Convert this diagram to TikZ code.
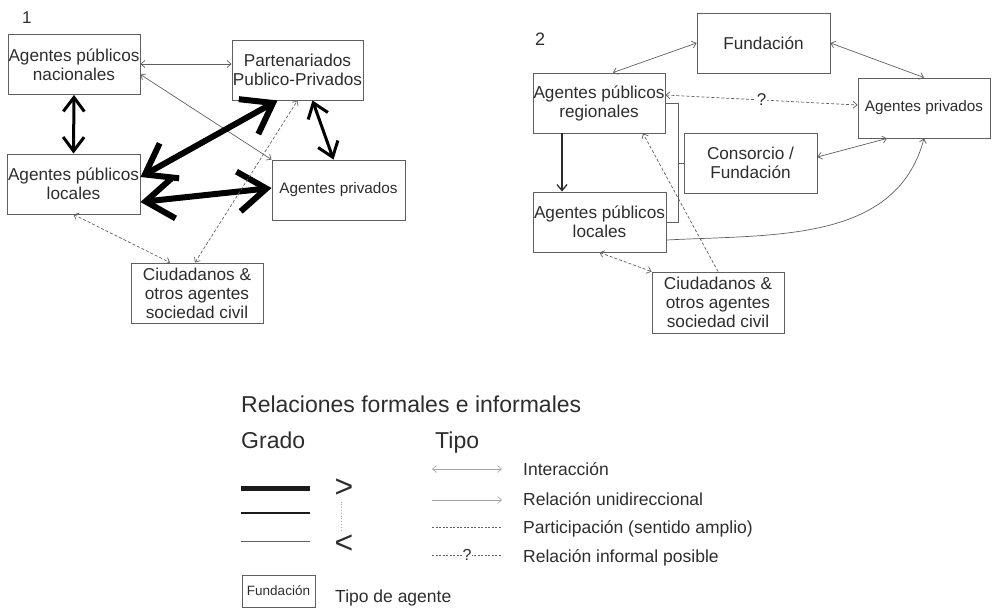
\documentclass[tikz,border=0pt]{standalone}
\usepackage{fontspec}
\setmainfont{Liberation Sans}
\usetikzlibrary{arrows.meta}

\definecolor{cinzatexto}{RGB}{45,45,45}
\definecolor{cinzacaixa}{RGB}{95,95,95}
\definecolor{cinzalinha}{RGB}{95,95,95}
\definecolor{cinzaclaro}{RGB}{165,165,165}

\begin{document}
\begin{tikzpicture}[x=1pt,y=-1pt]
\tikzset{ >={Straight Barb[length=4pt,width=7pt]},
  agente/.style={draw=cinzacaixa, line width=0.9pt, text=cinzatexto, align=center,
    font=\fontsize{17.2}{19}\selectfont, minimum width=132pt, minimum height=60pt, inner sep=0pt},
  fina/.style={<->, cinzalinha, line width=0.7pt},
  tracejada/.style={<->, cinzalinha, line width=0.7pt, dash pattern=on 3pt off 2pt},
  media/.style={line width=3pt, {Straight Barb[length=14pt,width=21pt]}-{Straight Barb[length=14pt,width=21pt]}},
  grossa/.style={line width=6pt, {Straight Barb[length=28pt,width=40pt]}-{Straight Barb[length=28pt,width=40pt]}},
  legenda/.style={anchor=base west, inner sep=0pt, text=cinzatexto},
}

\useasboundingbox (0,0) rectangle (992,608);

%%% Esquema 1

\node [legenda, font=\fontsize{17}{17}\selectfont] (num1) at (22,23) {1};

\node [agente] (nac1)  at (74,64.5)  {Agentes públicos\\nacionales};
\node [agente, minimum width=131pt] (ppp) at (297.5,70) {Partenariados\\Publico-Privados};
\node [agente, minimum width=133pt] (loc1) at (73.5,184) {Agentes públicos\\locales};
\node [agente, minimum width=133pt, font=\fontsize{15.3}{18}\selectfont] (priv1) at (338.5,190) {Agentes privados};
\node [agente] (ciu1)  at (197,293)  {Ciudadanos \&\\otros agentes\\sociedad civil};

% interacciones finas
\draw [fina] ([yshift=0.5pt]nac1.east) -- ([yshift=0.5pt]nac1.east -| ppp.west);
\draw [fina] ([yshift=-10pt]nac1.east) -- (priv1.north west);

% nacionales <-> locales
\draw [media] (nac1.south) -- (loc1.north);

% PPP <-> privados
\draw [media] ([xshift=15pt]ppp.south) -- ([xshift=-5pt]priv1.north);

% locales <-> PPP y privados
\draw [grossa] ([yshift=7pt]loc1.east) -- ([xshift=-20pt]ppp.south);
\draw [grossa] ([yshift=-18pt]loc1.east) -- ([yshift=2pt]priv1.west);

% participacion ciudadana
\draw [tracejada] (loc1.south) -- ([xshift=-27pt]ciu1.north);
\draw [tracejada] ([xshift=-2pt]ciu1.north) -- (ppp.south);

%%% Esquema 2

\node [legenda, font=\fontsize{18}{18}\selectfont] (num2) at (535,45) {2};

\node [agente, minimum width=133pt] (fund) at (763.5,43) {Fundación};
\node [agente] (reg)   at (599,103)  {Agentes públicos\\regionales};
\node [agente, font=\fontsize{15.3}{18}\selectfont] (priv2) at (924,108) {Agentes privados};
\node [agente, minimum width=133pt] (cons) at (750.5,163) {Consorcio /\\Fundación};
\node [agente, minimum width=133pt] (loc2) at (599.5,222) {Agentes públicos\\locales};
\node [agente, minimum height=61pt] (ciu2) at (718,302.5) {Ciudadanos \&\\otros agentes\\sociedad civil};

% Fundacion
\draw [fina] ([xshift=14pt]reg.north) -- (fund.west);
\draw [fina] (fund.east) -- (priv2.north);

% relacion informal
\draw [tracejada] ([yshift=8pt]reg.east) -- ([yshift=3pt]priv2.west)
  node [pos=0.5, fill=white, inner sep=0.5pt, text=cinzatexto, font=\fontsize{17}{17}\selectfont] (duda) {?};

% regionales -> locales
\draw [->, >={Straight Barb[length=6pt,width=10pt]}, line width=1.3pt, cinzatexto]
  ([xshift=-37pt]reg.south) -- ([xshift=-37pt]reg.south |- loc2.north);

% llave del consorcio
\coordinate (llave) at ([xshift=13pt]reg.east);
\draw [cinzalinha, line width=0.7pt] (reg.east) -- (llave) |- (loc2.east);
\draw [cinzalinha, line width=0.7pt] (cons.west) -- (cons.west -| llave);

% consorcio <-> privados
\draw [fina] ([yshift=6pt]cons.east) -- ([xshift=-37pt]priv2.south);

% locales -> privados
\draw [->, cinzalinha, line width=0.7pt] ([yshift=-18pt]loc2.east) to[out=3, in=-105] (priv2.south);

% participacion ciudadana
\draw [tracejada] (loc2.south) -- (ciu2.north west);
\draw [->, cinzalinha, line width=0.7pt, dash pattern=on 3pt off 2pt] (ciu2.north) -- ([xshift=44pt]reg.south);

%%% Leyenda

\node [legenda, font=\fontsize{23}{24}\selectfont] (titulo) at (241,412) {Relaciones formales e informales};
\node [legenda, font=\fontsize{23}{24}\selectfont] (grado)  at (241,448) {Grado};
\node [legenda, font=\fontsize{23}{24}\selectfont] (tipo)   at (435,448) {Tipo};

% grado
\coordinate (g1a) at (241,488); \coordinate (g1b) at (310,488);
\coordinate (g2a) at (241,513); \coordinate (g2b) at (310,513);
\coordinate (g3a) at (241,541); \coordinate (g3b) at (310,541);
\draw [line width=5pt, cinzatexto!60!black] (g1a) -- (g1b);
\draw [line width=2.5pt, cinzatexto!60!black] (g2a) -- (g2b);
\draw [line width=0.8pt, cinzalinha] (g3a) -- (g3b);
\node [text=cinzatexto, inner sep=0pt, font=\fontsize{32}{32}\selectfont] (maior) at (344,488) {>};
\node [text=cinzatexto, inner sep=0pt, font=\fontsize{32}{32}\selectfont] (menor) at (344,544) {<};
\draw [cinzaclaro, dotted, line width=0.8pt] ([xshift=-3pt,yshift=-4pt]maior.south) -- ([xshift=-3pt,yshift=4pt]menor.north);

% tipo
\coordinate (t1a) at (432,469); \coordinate (t1b) at (502,469);
\coordinate (t2a) at (432,500); \coordinate (t2b) at (502,500);
\coordinate (t3a) at (432,527); \coordinate (t3b) at (502,527);
\coordinate (t4a) at (432,555); \coordinate (t4b) at (502,555);
\draw [<->, cinzaclaro, line width=0.6pt] (t1a) -- (t1b);
\draw [->, cinzaclaro, line width=0.6pt] (t2a) -- (t2b);
\draw [cinzalinha, line width=0.6pt, dash pattern=on 2pt off 1.5pt] (t3a) -- (t3b);
\draw [cinzalinha, line width=0.6pt, dash pattern=on 2pt off 1.5pt] (t4a) -- (t4b)
  node [pos=0.5, fill=white, inner sep=0.5pt, text=cinzatexto, font=\fontsize{16}{16}\selectfont] (duda2) {?};

\node [legenda, font=\fontsize{17.5}{18}\selectfont] (tInt)  at (523,475) {Interacción};
\node [legenda, font=\fontsize{17.5}{18}\selectfont] (tUni)  at (523,505) {Relación unidireccional};
\node [legenda, font=\fontsize{17.5}{18}\selectfont] (tPar)  at (523,533) {Participación (sentido amplio)};
\node [legenda, font=\fontsize{17.5}{18}\selectfont] (tInf)  at (523,562) {Relación informal posible};

% tipo de agente
\node [draw=cinzacaixa, line width=0.8pt, text=cinzatexto, minimum width=73pt, minimum height=32pt, inner sep=0pt,
  font=\fontsize{13.5}{15}\selectfont] (legcaixa) at (278.5,591) {Fundación};
\node [legenda, font=\fontsize{17.5}{18}\selectfont] (tAge) at (335,602) {Tipo de agente};

\end{tikzpicture}
\end{document}
